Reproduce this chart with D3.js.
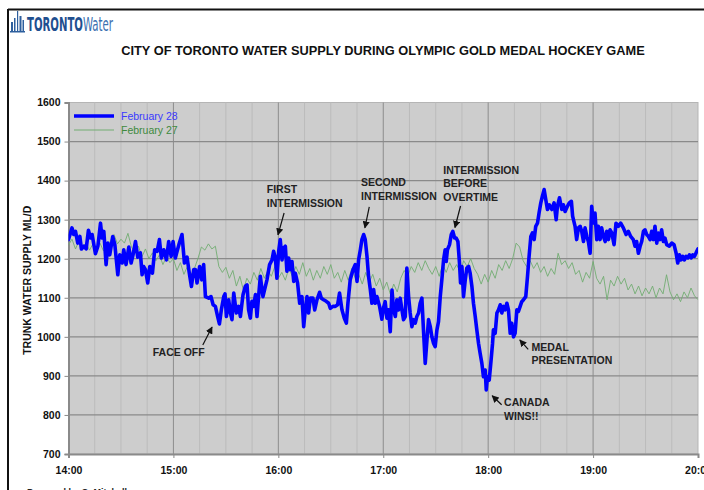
<!DOCTYPE html>
<html lang="en">
<head>
<meta charset="UTF-8">
<title>City of Toronto Water Supply - Olympic Gold Medal Hockey Game</title>
<script src="https://cdn.jsdelivr.net/npm/d3@7"></script>
<style>
    body {
        margin: 0;
        background: #ffffff;
        font-family: "Liberation Sans", Arial, sans-serif;
    }
    .axis-label { font-size: 10.5px; font-weight: bold; fill: #111; }
    .note { font-size: 10.5px; font-weight: bold; fill: #222; }
</style>
</head>
<body>
<svg id="chart" width="704" height="490"></svg>
<script>
// ---- data ----
const xTickMinutes = [0, 60, 120, 180, 240, 300, 360];
const xTickLabels = ["14:00", "15:00", "16:00", "17:00", "18:00", "19:00", "20:00"];
const yTicks = [700, 800, 900, 1000, 1100, 1200, 1300, 1400, 1500, 1600];
const seriesNames = ["February 28", "February 27"];

// February 28 (game day): [minutes after 14:00, ML/D]
const feb28 = [
    [0,1249],[2,1279],[3,1262],[4,1270],[5.3,1240],[6.5,1257],[7.4,1225],[8.8,1232],[10.1,1225],[11.4,1273],
    [12.6,1253],[13.5,1262],[15.4,1213],[16.8,1232],[18.3,1291],[19.2,1253],[20.2,1270],[21.5,1185],[22.5,1240],[23.6,1210],
    [25.3,1257],[26.5,1236],[28.2,1159],[29.3,1210],[30.7,1189],[31.6,1223],[32.9,1185],[34.5,1230],[35.8,1189],[36.9,1210],
    [38.3,1244],[39.6,1204],[41.1,1215],[42.1,1159],[43,1180],[44,1172],[45.3,1138],[46.5,1180],[48,1163],[49.3,1223],
    [50.7,1219],[52,1249],[53.1,1202],[54.5,1223],[56,1197],[57.3,1244],[58.7,1206],[59.8,1244],[61.1,1202],[62.1,1219],
    [63.4,1240],[64.9,1262],[66.3,1189],[67.8,1204],[69.1,1163],[70.3,1129],[71.6,1172],[72.6,1172],[73.5,1138],[75,1180],
    [76.2,1146],[77.3,1185],[78.3,1103],[80.2,1099],[81.5,1103],[82.7,1082],[84,1078],[85.3,1052],[86.3,1033],[87.4,1069],
    [88.8,1103],[89.5,1110],[90.3,1052],[91.6,1095],[92.6,1061],[93.5,1044],[94.5,1112],[96,1061],[97.3,1078],[98.3,1052],
    [99.8,1108],[101.1,1129],[102.1,1133],[103,1069],[104,1048],[104.9,1091],[105.9,1078],[106.9,1108],[107.8,1052],[108.7,1103],
    [109.7,1155],[111.2,1103],[112.6,1129],[113.5,1146],[115,1185],[116.4,1197],[117.3,1219],[118.3,1202],[119.2,1150],[120.2,1219],
    [121.1,1249],[122.1,1197],[123,1227],[124,1232],[124.9,1168],[125.9,1202],[126.9,1172],[127.8,1193],[128.8,1142],[129.7,1163],
    [131,1138],[132.2,1086],[133.5,1103],[134.5,1026],[135.4,1069],[136.4,1103],[137.3,1061],[138.3,1099],[139.8,1099],[140.8,1069],
    [142.1,1095],[143.6,1114],[144.6,1099],[145.9,1095],[147.4,1091],[148.8,1086],[149.7,1073],[151.2,1078],[152.6,1078],[153.9,1082],
    [155,1112],[156.4,1069],[157.7,1048],[158.9,1035],[159.8,1086],[161.1,1146],[162.7,1172],[164,1185],[165,1142],[165.9,1197],
    [166.9,1223],[167.8,1249],[168.8,1262],[169.7,1249],[170.7,1206],[171.6,1155],[172.6,1121],[173.5,1086],[174.5,1121],[175.4,1086],
    [176.4,1103],[177.9,1078],[179.2,1045],[180.2,1075],[181.1,1090],[182.1,1048],[183,1069],[184,1013],[185,1120],[185.9,1069],
    [186.9,1052],[187.8,1095],[188.8,1069],[189.7,1099],[190.7,1069],[191.6,1044],[192.6,1052],[193.5,1176],[194.5,1103],[195.4,1061],
    [196.4,1026],[197.3,1044],[198.3,1035],[199.2,1052],[200.2,1061],[201.1,1086],[202.1,1099],[203,1018],[204,932],[205,992],
    [205.9,1044],[206.9,1026],[207.8,1000],[208.8,983],[209.7,975],[210.7,1018],[211.6,1039],[212.6,1103],[213.5,1146],[214.5,1197],
    [215.4,1223],[216,1193],[216.7,1223],[217.9,1236],[218.9,1262],[219.8,1270],[220.8,1253],[221.7,1253],[222.7,1244],[223.6,1189],
    [224.2,1138],[225,1180],[225.9,1103],[226.9,1146],[227.8,1176],[228.8,1180],[229.7,1163],[230.7,1129],[231.6,1086],[232.6,1052],
    [233.5,1018],[234.5,983],[235.4,958],[236.4,932],[237.3,898],[238.3,915],[238.9,864],[239.6,898],[240.6,889],[241.5,932],
    [242.5,983],[243,1018],[244,1009],[245,1061],[245.9,1069],[246.9,1082],[247.8,1061],[248.8,1078],[249.7,1069],[250.7,1086],
    [251.6,1069],[252.6,1009],[253.5,1035],[254.5,1000],[255.4,1009],[256.4,1069],[257.3,1065],[258.3,1078],[259.2,1090],[260.2,1095],
    [261.5,1103],[262.5,1155],[263.4,1206],[264.4,1257],[265.3,1266],[266.3,1249],[267.2,1283],[268.2,1291],[269.1,1317],[270.1,1343],
    [271,1360],[272,1377],[273.1,1347],[273.9,1326],[275,1338],[276.4,1326],[277.7,1343],[278.9,1300],[279.6,1334],[280.8,1356],
    [282.1,1326],[283,1338],[284,1321],[285.3,1334],[286.4,1343],[287.6,1347],[288.3,1309],[289.7,1283],[290.6,1249],[291.6,1279],
    [292.6,1283],[293.5,1270],[294.5,1244],[295.4,1279],[296.4,1257],[297.3,1244],[298.3,1214],[299.2,1334],[299.8,1309],[300.6,1291],
    [301.1,1317],[302.1,1249],[303,1283],[304,1249],[304.9,1279],[305.9,1257],[306.9,1244],[307.8,1270],[308.8,1249],[309.7,1274],
    [310.7,1266],[312,1236],[313.1,1291],[314.5,1283],[315.8,1291],[317.3,1279],[318.9,1262],[320.2,1270],[321.5,1257],[323,1249],
    [324,1232],[324.9,1244],[325.9,1214],[326.9,1232],[327.8,1244],[328.8,1270],[329.7,1274],[330.7,1262],[331.6,1257],[332.6,1249],
    [333.5,1270],[334.5,1249],[335.4,1283],[336.4,1240],[337.3,1266],[338.3,1249],[339.2,1274],[340.2,1244],[341.1,1253],[342.1,1236],
    [343.6,1232],[345,1240],[346.3,1236],[347.5,1214],[348.4,1189],[349.4,1210],[350.3,1197],[351.3,1206],[352.2,1197],[353.2,1206],
    [354.2,1202],[355.1,1210],[356.1,1202],[357,1210],[358,1206],[359.3,1219],[360,1225]
];

// February 27 (day before), one reading every 2 minutes from 14:00
const feb27Step = 2;
const feb27 = [
    1235,1250,1225,1245,1230,1240,1222,1238,1228,1240,1220,1235,1245,1262,1238,1250,1240,1265,1230,1215,
    1232,1205,1225,1200,1215,1195,1210,1185,1205,1190,1200,1170,1190,1160,1180,1158,1175,1200,1230,1222,
    1238,1225,1232,1180,1165,1178,1150,1170,1130,1155,1120,1150,1135,1165,1145,1175,1150,1170,1155,1180,
    1150,1165,1145,1175,1155,1180,1160,1190,1155,1175,1145,1170,1150,1180,1160,1185,1150,1165,1140,1170,
    1145,1175,1150,1160,1135,1165,1140,1160,1130,1150,1120,1140,1110,1135,1115,1150,1170,1155,1180,1165,
    1190,1170,1195,1175,1160,1180,1155,1185,1165,1190,1170,1185,1165,1195,1180,1200,1175,1160,1135,1160,
    1140,1170,1150,1185,1170,1195,1175,1200,1240,1230,1195,1180,1195,1175,1190,1165,1180,1155,1175,1160,
    1214,1185,1195,1175,1190,1160,1170,1140,1165,1150,1193,1150,1135,1155,1095,1145,1130,1155,1135,1150,
    1120,1135,1110,1130,1105,1125,1110,1130,1100,1125,1110,1159,1115,1095,1110,1090,1115,1100,1125,1105,
    1095
];

// annotations placed in data space (minutes, ML/D)
const notes = [
    { lines: ["FIRST", "INTERMISSION"], at: [113.4, 1368], gap: 14, arrow: [[123.3, 1317], [119.8, 1261]] },
    { lines: ["SECOND", "INTERMISSION"], at: [167.3, 1386], gap: 14, arrow: [[172, 1333], [169.5, 1279]] },
    { lines: ["INTERMISSION", "BEFORE", "OVERTIME"], at: [214.3, 1417], gap: 13.5, arrow: [[224.2, 1335], [221, 1280]] },
    { lines: ["FACE OFF"], at: [48.2, 950], gap: 14, arrow: [[76.8, 979], [82.1, 1025]] },
    { lines: ["MEDAL", "PRESENTATION"], at: [264.8, 963], gap: 13, arrow: [[262.9, 968], [258.1, 992]] },
    { lines: ["CANADA", "WINS!!"], at: [249.1, 822], gap: 14, arrow: [[247.7, 826], [242.3, 849]] }
];

// ---- layout ----
const svg = d3.select("#chart");
const margin = { left: 68.5, right: 6, top: 102.5, bottom: 36 };
const W = 704, H = 490;
const plotW = W - margin.left - margin.right;
const plotH = H - margin.top - margin.bottom;

const x = d3.scaleLinear().domain([0, 360]).range([margin.left, margin.left + plotW]);
const y = d3.scaleLinear().domain([700, 1600]).range([margin.top + plotH, margin.top]);

// page frame
svg.append("line").attr("x1", 8).attr("x2", W).attr("y1", 9.5).attr("y2", 9.5)
    .attr("stroke", "#111").attr("stroke-width", 2);
svg.append("line").attr("x1", 8).attr("x2", 8).attr("y1", 9).attr("y2", H)
    .attr("stroke", "#111").attr("stroke-width", 2);

// logo
const logo = svg.append("g").attr("fill", "#2d5f9e").attr("stroke", "none");
logo.append("rect").attr("x", 11).attr("y", 22).attr("width", 2).attr("height", 10);
logo.append("rect").attr("x", 14).attr("y", 18).attr("width", 1.5).attr("height", 14);
logo.append("rect").attr("x", 17).attr("y", 11).attr("width", 1.2).attr("height", 21);
logo.append("rect").attr("x", 19.5).attr("y", 16).attr("width", 2).attr("height", 16);
logo.append("rect").attr("x", 22.5).attr("y", 20).attr("width", 1.5).attr("height", 12);
logo.append("rect").attr("x", 10).attr("y", 31).attr("width", 15).attr("height", 1.5);

// wordmark as one text, squeezed to fit x 27..113
const wordG = svg.append("g");
const word = wordG.append("text")
    .attr("font-family", "'DejaVu Sans Condensed', 'Liberation Sans Narrow', sans-serif")
    .attr("font-size", 20);
word.append("tspan").attr("font-weight", "bold").attr("fill", "#1f4f8f").text("TORONTO");
word.append("tspan").attr("fill", "#3a6fb0").attr("font-weight", "normal").text("Water");
const wordLen = word.node().getComputedTextLength() || 86;
wordG.attr("transform", `translate(27,31) scale(${86 / wordLen},1)`);

// title
svg.append("text").attr("x", 383).attr("y", 55).attr("text-anchor", "middle")
    .attr("font-weight", "bold").attr("font-size", 12.8).attr("fill", "#111")
    .text("CITY OF TORONTO WATER SUPPLY DURING OLYMPIC GOLD MEDAL HOCKEY GAME");

// plot background
svg.append("rect").attr("x", margin.left).attr("y", margin.top)
    .attr("width", plotW).attr("height", plotH)
    .attr("fill", "#cdcdcd").attr("stroke", "#b5b5b5").attr("stroke-width", 1);

// minor vertical grid every 15 minutes
const minorTicks = d3.range(15, 360, 15).filter(m => m % 60 !== 0);
svg.append("g").selectAll("line").data(minorTicks).enter().append("line")
    .attr("x1", d => x(d)).attr("x2", d => x(d))
    .attr("y1", margin.top).attr("y2", margin.top + plotH)
    .attr("stroke", "#bbbbbb").attr("stroke-width", 1);

// hourly vertical grid
svg.append("g").selectAll("line").data(xTickMinutes.slice(1, -1)).enter().append("line")
    .attr("x1", d => x(d)).attr("x2", d => x(d))
    .attr("y1", margin.top).attr("y2", margin.top + plotH)
    .attr("stroke", "#8c8c8c").attr("stroke-width", 1);

// horizontal grid
svg.append("g").selectAll("line").data(yTicks.slice(1, -1)).enter().append("line")
    .attr("x1", margin.left).attr("x2", margin.left + plotW)
    .attr("y1", d => y(d)).attr("y2", d => y(d))
    .attr("stroke", "#8a8a8a").attr("stroke-width", 1.3);

// axes
const yAxis = d3.axisLeft(y).tickValues(yTicks).tickSize(4).tickPadding(4).tickFormat(d3.format("d"));
const gy = svg.append("g").attr("transform", `translate(${margin.left},0)`).call(yAxis);
gy.select(".domain").attr("stroke", "#8a8a8a").attr("stroke-width", 2);
gy.selectAll(".tick line").attr("stroke", "#8a8a8a");
gy.selectAll(".tick text").attr("class", "axis-label").attr("font-family", null).attr("font-size", null);

const xAxis = d3.axisBottom(x).tickValues(xTickMinutes).tickSize(4).tickPadding(9)
    .tickFormat((d, i) => xTickLabels[i]);
const gx = svg.append("g").attr("transform", `translate(0,${margin.top + plotH})`).call(xAxis);
gx.select(".domain").attr("stroke", "#8a8a8a").attr("stroke-width", 2);
gx.selectAll(".tick line").attr("stroke", "#8a8a8a");
gx.selectAll(".tick text").attr("class", "axis-label").attr("font-family", null).attr("font-size", null);

// y axis title
svg.append("text").attr("class", "axis-label")
    .attr("transform", `translate(31,${margin.top + plotH / 2 + 2}) rotate(-90)`)
    .attr("text-anchor", "middle")
    .text("TRUNK WATER SUPPLY ML/D");

// series
svg.append("clipPath").attr("id", "plotclip").append("rect")
    .attr("x", margin.left).attr("y", margin.top).attr("width", plotW).attr("height", plotH);

const line27 = d3.line().x((d, i) => x(i * feb27Step)).y(d => y(d));
svg.append("path").datum(feb27).attr("d", line27)
    .attr("clip-path", "url(#plotclip)")
    .attr("fill", "none").attr("stroke", "#72ad72").attr("stroke-width", 0.9);

const line28 = d3.line().x(d => x(d[0])).y(d => y(d[1]));
svg.append("path").datum(feb28).attr("d", line28)
    .attr("clip-path", "url(#plotclip)")
    .attr("fill", "none").attr("stroke", "#0000ff").attr("stroke-width", 3.6)
    .attr("stroke-linejoin", "round").attr("stroke-linecap", "round");

// legend
const legend = svg.append("g");
legend.append("line").attr("x1", 74).attr("x2", 114).attr("y1", 116).attr("y2", 116)
    .attr("stroke", "#0000ff").attr("stroke-width", 3.6);
legend.append("text").attr("x", 121).attr("y", 119.5).attr("font-size", 10.5)
    .attr("fill", "#3a3aff").text(seriesNames[0]);
legend.append("line").attr("x1", 74).attr("x2", 114).attr("y1", 130).attr("y2", 130)
    .attr("stroke", "#72ad72").attr("stroke-width", 1);
legend.append("text").attr("x", 121).attr("y", 133.5).attr("font-size", 10.5)
    .attr("fill", "#3d8a3d").text(seriesNames[1]);

// annotations
svg.append("defs").append("marker")
    .attr("id", "head").attr("viewBox", "0 0 10 10")
    .attr("refX", 9).attr("refY", 5)
    .attr("markerWidth", 6).attr("markerHeight", 6)
    .attr("orient", "auto")
    .append("path").attr("d", "M0,0 L10,5 L0,10 z").attr("fill", "#111");

const note = svg.append("g").selectAll("g").data(notes).enter().append("g");
note.each(function (d) {
    const g = d3.select(this);
    d.lines.forEach((t, i) => {
        g.append("text").attr("class", "note")
            .attr("x", x(d.at[0])).attr("y", y(d.at[1]) + i * d.gap)
            .text(t);
    });
    g.append("line")
        .attr("x1", x(d.arrow[0][0])).attr("y1", y(d.arrow[0][1]))
        .attr("x2", x(d.arrow[1][0])).attr("y2", y(d.arrow[1][1]))
        .attr("stroke", "#111").attr("stroke-width", 1.2)
        .attr("marker-end", "url(#head)");
});

// footer (cut by page edge)
svg.append("text").attr("x", 27).attr("y", 495).attr("font-size", 9).attr("font-weight", "bold")
    .attr("fill", "#222").text("Prepared by G. Mitchell");
</script>
</body>
</html>
